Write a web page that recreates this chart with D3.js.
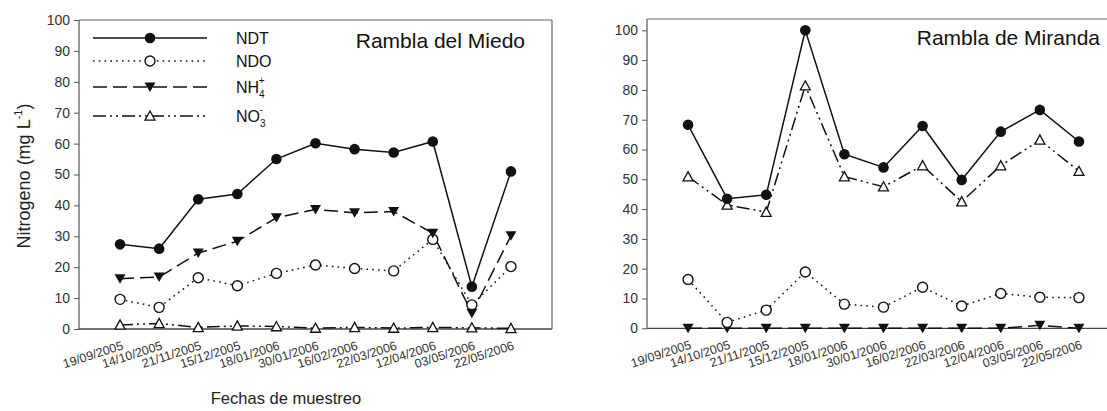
<!DOCTYPE html>
<html><head><meta charset="utf-8">
<script src="https://cdn.jsdelivr.net/npm/d3@7"></script>
<style>body{margin:0;background:#fff}svg{display:block;font-family:"Liberation Sans",Arial,sans-serif}</style>
</head><body><svg id="c" width="1107" height="411"></svg>
<script>
const dates = ["19/09/2005","14/10/2005","21/11/2005","15/12/2005","18/01/2006","30/01/2006","16/02/2006","22/03/2006","12/04/2006","03/05/2006","22/05/2006"];
const yTicksLeft = [0,10,20,30,40,50,60,70,80,90,100];
const yTicksRight = [0,10,20,30,40,50,60,70,80,90,100];
// Rambla del Miedo
const miedoNDT = [27.4,26.0,42.0,43.7,55.0,60.1,58.2,57.1,60.7,13.7,51.0];
const miedoNDO = [9.6,7.0,16.6,14.0,18.0,20.7,19.6,18.8,29.0,7.8,20.2];
const miedoNH4 = [16.3,16.8,24.6,28.4,36.0,38.7,37.6,38.0,31.0,5.1,30.2];
const miedoNO3 = [1.3,1.8,0.5,1.0,0.8,0.3,0.5,0.3,0.5,0.4,0.2];
// Rambla de Miranda
const mirandaNDT = [68.3,43.5,44.8,100,58.4,54.0,67.9,49.8,66.0,73.3,62.7];
const mirandaNDO = [16.4,2.0,6.1,18.9,8.1,7.1,13.8,7.5,11.7,10.4,10.3];
const mirandaNH4 = [0,0,0,0,0,0,0,0,0,1.0,0];
const mirandaNO3 = [50.9,41.4,39.0,81.4,50.9,47.5,54.6,42.5,54.6,63.2,52.7];

const svg = d3.select("#c");
const INK = "#111";
const styles = {
  NDT: {dash:null, marker:"fcircle"},
  NDO: {dash:"1.6 4.2", marker:"ocircle"},
  NH4: {dash:"14 6", marker:"ftri"},
  NO3: {dash:"13 4 2 4 2 4", marker:"otri"}
};
function drawMarker(g, type, x, y){
  if(type==="fcircle") g.append("circle").attr("cx",x).attr("cy",y).attr("r",5.3).attr("fill",INK);
  else if(type==="ocircle") g.append("circle").attr("cx",x).attr("cy",y).attr("r",5).attr("fill","#fff").attr("stroke",INK).attr("stroke-width",1.4);
  else if(type==="ftri") g.append("path").attr("d",`M${x-5.5},${y-4.5}L${x+5.5},${y-4.5}L${x},${y+5}Z`).attr("fill",INK);
  else if(type==="otri") g.append("path").attr("d",`M${x-5},${y+4.2}L${x+5},${y+4.2}L${x},${y-5}Z`).attr("fill","#fff").attr("stroke",INK).attr("stroke-width",1.3);
}
function panel(cfg){
  const x = d3.scalePoint().domain(dates).range([cfg.x0,cfg.x1]).padding(1.05);
  const y = d3.scaleLinear().domain(cfg.ydom).range([cfg.yb,cfg.yt]);
  const g = svg.append("g");
  // frame
  g.append("line").attr("x1",cfg.x0).attr("x2",Math.min(cfg.x1,1107)).attr("y1",cfg.yt).attr("y2",cfg.yt).attr("stroke","#666").attr("stroke-width",1.2);
  if(cfg.x1<=1107) g.append("line").attr("x1",cfg.x1).attr("x2",cfg.x1).attr("y1",cfg.yt).attr("y2",cfg.yb).attr("stroke","#666").attr("stroke-width",1.2);
  // y axis
  const ya = g.append("g").attr("transform",`translate(${cfg.x0},0)`).call(d3.axisLeft(y).tickValues(cfg.yticks).tickSize(5).tickPadding(4).tickSizeOuter(0));
  ya.select(".domain").attr("stroke","#555").attr("stroke-width",1.2).attr("d",`M0,${cfg.yb}V${cfg.yt}`);
  ya.selectAll(".tick line").attr("stroke","#555");
  ya.selectAll(".tick text").attr("font-size",14).attr("fill","#333");
  // x axis line
  g.append("line").attr("x1",cfg.x0).attr("x2",Math.min(cfg.x1,1107)).attr("y1",cfg.yb).attr("y2",cfg.yb).attr("stroke","#444").attr("stroke-width",1.3);
  // x tick labels
  g.selectAll("text.xl").data(dates).join("text").attr("class","xl")
    .attr("transform",d=>`translate(${x(d)+4},${cfg.yb+20}) rotate(-18)`)
    .attr("text-anchor","end").attr("font-size",12.5).attr("fill","#333").text(d=>d);
  // series
  const line = d3.line().x((d,i)=>x(dates[i])).y(d=>y(d));
  cfg.series.forEach(s=>{
    const st = styles[s.key];
    g.append("path").datum(s.values).attr("d",line).attr("fill","none").attr("stroke",INK).attr("stroke-width",1.5).attr("stroke-dasharray",st.dash);
  });
  cfg.series.forEach(s=>{
    const st = styles[s.key];
    s.values.forEach((v,i)=>drawMarker(g,st.marker,x(dates[i]),y(v)));
  });
  g.append("text").attr("x",cfg.titleX).attr("y",cfg.titleY).attr("text-anchor","end").attr("font-size",21).attr("fill","#111").text(cfg.title);
  return {x,y};
}
panel({x0:79,x1:552,yt:20,yb:329,ydom:[0,100],yticks:yTicksLeft,title:"Rambla del Miedo",titleX:525,titleY:48,
  series:[{key:"NO3",values:miedoNO3},{key:"NDO",values:miedoNDO},{key:"NH4",values:miedoNH4},{key:"NDT",values:miedoNDT}]});
panel({x0:647,x1:1120,yt:19,yb:328.3,ydom:[0,103.8],yticks:yTicksRight,title:"Rambla de Miranda",titleX:1100,titleY:45,
  series:[{key:"NH4",values:mirandaNH4},{key:"NDO",values:mirandaNDO},{key:"NO3",values:mirandaNO3},{key:"NDT",values:mirandaNDT}]});

// legend
const legend = [
  {key:"NDT", label:"NDT", sub:null, sup:null, y:38},
  {key:"NDO", label:"NDO", sub:null, sup:null, y:61},
  {key:"NH4", label:"NH", sub:"4", sup:"+", y:87},
  {key:"NO3", label:"NO", sub:"3", sup:"-", y:116}
];
const lg = svg.append("g");
legend.forEach(l=>{
  const st = styles[l.key];
  lg.append("line").attr("x1",93).attr("x2",207).attr("y1",l.y).attr("y2",l.y).attr("stroke",INK).attr("stroke-width",1.5).attr("stroke-dasharray",st.dash);
  drawMarker(lg,st.marker,150,l.y);
  const t = lg.append("text").attr("x",236).attr("y",l.y+6).attr("font-size",16).attr("fill","#111");
  t.append("tspan").text(l.label);
  if(l.sub){
    t.append("tspan").attr("font-size",10).attr("dy",5).text(l.sub);
    t.append("tspan").attr("font-size",10).attr("dx",-6).attr("dy",-14).text(l.sup);
  }
});
// axis titles
const yl = svg.append("text").attr("transform","translate(30,176) rotate(-90)").attr("text-anchor","middle").attr("font-size",18).attr("fill","#222");
yl.append("tspan").text("Nitrogeno (mg L");
yl.append("tspan").attr("font-size",11).attr("dy",-8).text("-1");
yl.append("tspan").attr("dy",8).text(")");
svg.append("text").attr("x",286).attr("y",404).attr("text-anchor","middle").attr("font-size",16.5).attr("fill","#222").text("Fechas de muestreo");
</script></body></html>
